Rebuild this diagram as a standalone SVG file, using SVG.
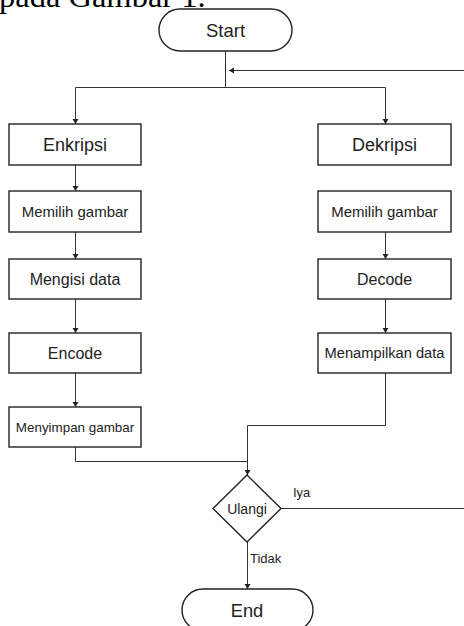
<svg xmlns="http://www.w3.org/2000/svg" width="464" height="626" viewBox="0 0 464 626">
<defs>
<marker id="arr" markerUnits="userSpaceOnUse" markerWidth="8" markerHeight="8" refX="5" refY="3" orient="auto">
<path d="M0,0 L5,3 L0,6 Z" fill="#222"/>
</marker>
<style>
.box{fill:#fff;stroke:#222;stroke-width:1.4}
.t{font-family:"Liberation Sans",Arial,sans-serif;fill:#222;text-anchor:middle}
.lbl{font-family:"Liberation Sans",Arial,sans-serif;fill:#222;font-size:13px}
.c{fill:none;stroke:#333;stroke-width:1}
.ca{fill:none;stroke:#333;stroke-width:1;marker-end:url(#arr)}
</style>
</defs>
<rect width="464" height="626" fill="#fff"/>
<text x="-1" y="7" font-family="'Liberation Serif','Times New Roman',serif" font-size="32.5" fill="#000">pada Gambar 1.</text>

<g id="connectors">
<path class="c" d="M225.5,51 V87.5"/>
<path class="ca" d="M225.5,87.5 H75.5 V124"/>
<path class="ca" d="M225.5,87.5 H385.5 V124"/>
<path class="ca" d="M281,508.5 H470 V70.5 H229"/>
<path class="ca" d="M75.5,165 V191"/>
<path class="ca" d="M75.5,232 V259"/>
<path class="ca" d="M75.5,299 V333"/>
<path class="ca" d="M75.5,373 V407"/>
<path class="ca" d="M385.5,232 V259"/>
<path class="ca" d="M385.5,299 V333"/>
<path class="ca" d="M385.5,373 V425.5 H247.5 V475"/>
<path class="c" d="M75.5,447 V461.5 H247.5"/>
<path class="ca" d="M247.5,542 V589"/>
</g>
<text class="lbl" x="293" y="497">Iya</text>
<text class="lbl" x="250" y="563">Tidak</text>

<g id="start"><rect class="box" x="159" y="9" width="133" height="42" rx="21"/><text class="t" x="225.5" y="36.5" font-size="18.5">Start</text></g>
<g id="enkripsi"><rect class="box" x="9" y="124" width="132" height="41"/><text class="t" x="75" y="151" font-size="18">Enkripsi</text></g>
<g id="dekripsi"><rect class="box" x="318" y="124" width="133" height="41"/><text class="t" x="384.5" y="151" font-size="18">Dekripsi</text></g>
<g id="memilih1"><rect class="box" x="9" y="191" width="132" height="41"/><text class="t" x="75" y="216.5" font-size="15">Memilih gambar</text></g>
<g id="memilih2"><rect class="box" x="318" y="191" width="133" height="41"/><text class="t" x="384.5" y="216.5" font-size="15">Memilih gambar</text></g>
<g id="mengisi"><rect class="box" x="9" y="259" width="132" height="40"/><text class="t" x="75" y="284.5" font-size="16">Mengisi data</text></g>
<g id="decode"><rect class="box" x="318" y="259" width="133" height="40"/><text class="t" x="384.5" y="284.5" font-size="16">Decode</text></g>
<g id="encode"><rect class="box" x="9" y="333" width="132" height="40"/><text class="t" x="75" y="358.5" font-size="16">Encode</text></g>
<g id="menampilkan"><rect class="box" x="318" y="333" width="133" height="40"/><text class="t" x="384.5" y="358" font-size="14.7">Menampilkan data</text></g>
<g id="menyimpan"><rect class="box" x="9" y="407" width="132" height="40"/><text class="t" x="75" y="431.5" font-size="13.4">Menyimpan gambar</text></g>
<g id="ulangi"><path class="box" d="M247,475 L281,508.5 L247,542 L213,508.5 Z"/><text class="t" x="247" y="513.5" font-size="14">Ulangi</text></g>
<g id="end"><rect class="box" x="182" y="589" width="131" height="42" rx="21"/><text class="t" x="247" y="616.5" font-size="18.3">End</text></g>
</svg>
